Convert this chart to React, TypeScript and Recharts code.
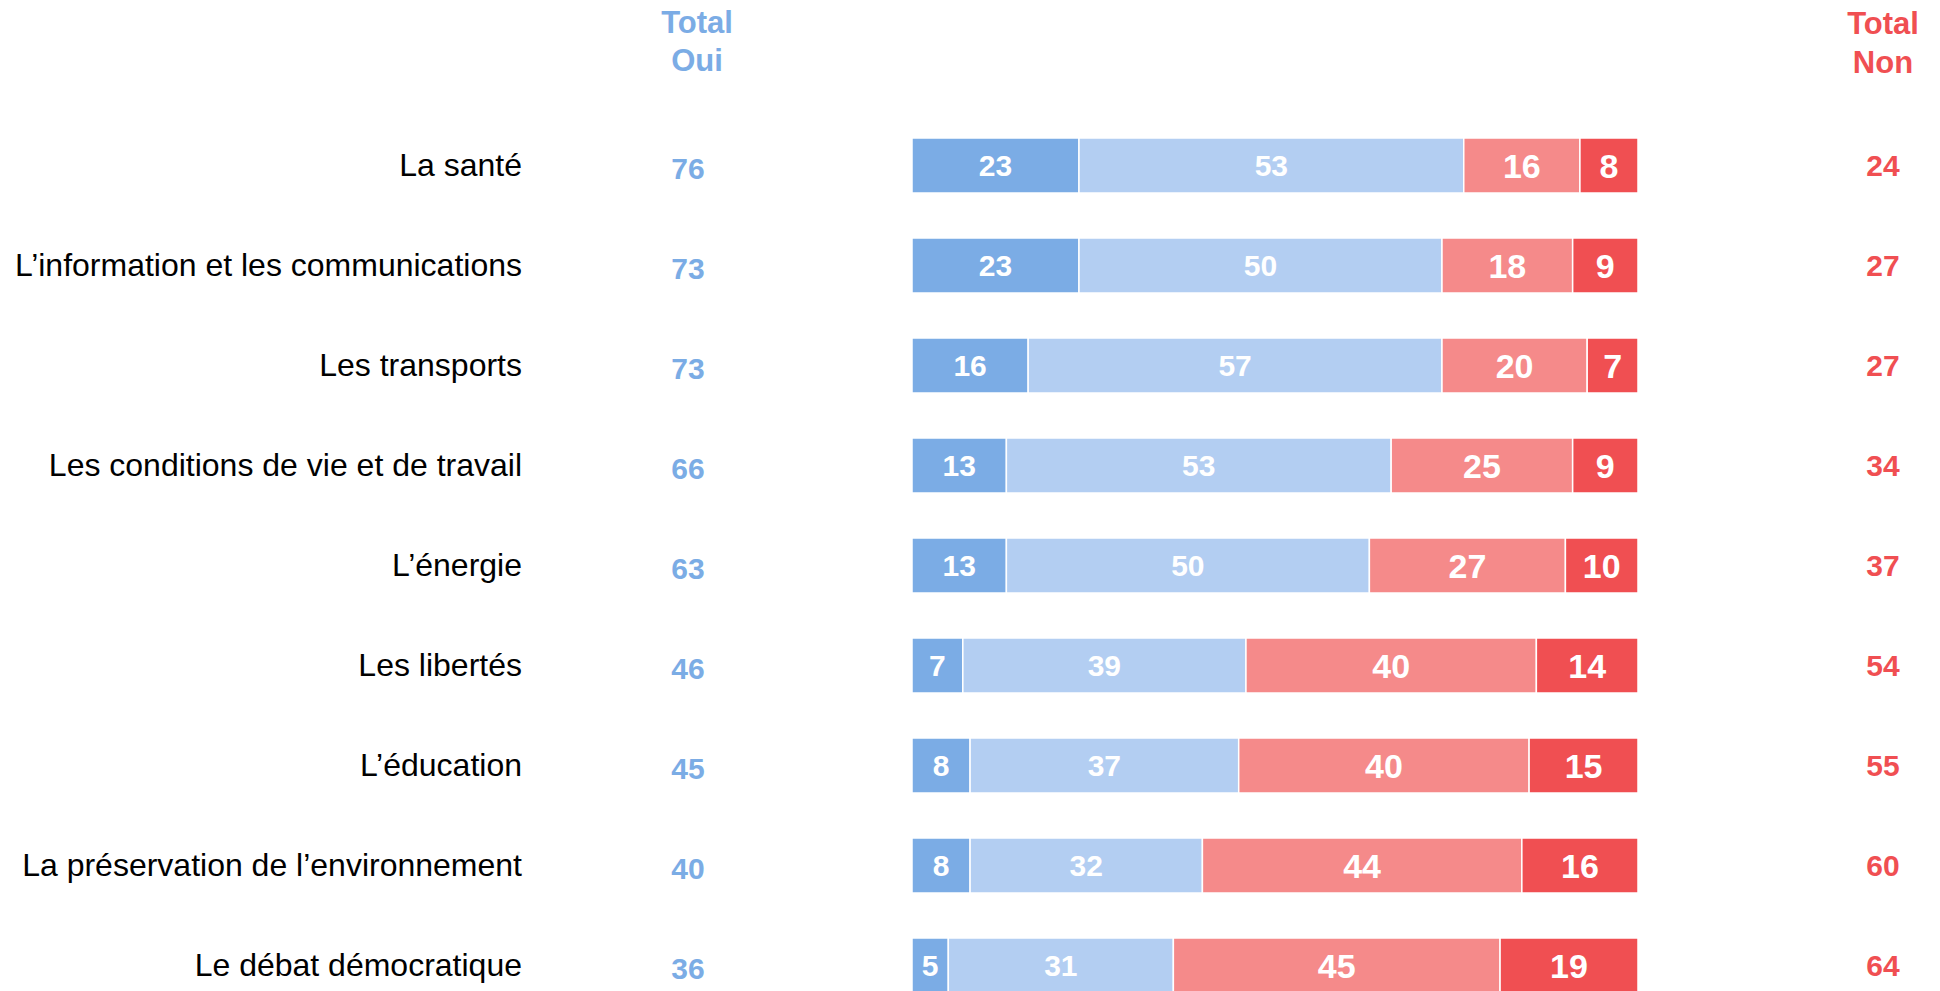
import React from "react";
import { BarChart, Bar, XAxis, YAxis, LabelList } from "recharts";

const categories = [
  "La santé",
  "L’information et les communications",
  "Les transports",
  "Les conditions de vie et de travail",
  "L’énergie",
  "Les libertés",
  "L’éducation",
  "La préservation de l’environnement",
  "Le débat démocratique",
];
const ouiTout = [23, 23, 16, 13, 13, 7, 8, 8, 5];
const ouiPlutot = [53, 50, 57, 53, 50, 39, 37, 32, 31];
const nonPlutot = [16, 18, 20, 25, 27, 40, 40, 44, 45];
const nonTout = [8, 9, 7, 9, 10, 14, 15, 16, 19];
const totalOui = [76, 73, 73, 66, 63, 46, 45, 40, 36];
const totalNon = [24, 27, 27, 34, 37, 54, 55, 60, 64];

const data = categories.map((name, i) => ({
  name,
  ouiTout: ouiTout[i],
  ouiPlutot: ouiPlutot[i],
  nonPlutot: nonPlutot[i],
  nonTout: nonTout[i],
  totalOui: totalOui[i],
  totalNon: totalNon[i],
}));

const FONT = "'Liberation Sans', Arial, sans-serif";
const BLUE = "#7BACE5";
const BLUE_LIGHT = "#B3CEF2";
const RED_LIGHT = "#F58A8A";
const RED = "#F04F52";

// tick showing the label plus both totals on the same row
const RowTick = (props: any) => {
  const { y, payload } = props;
  const i = payload.index;
  return (
    <g>
      <text x={522} y={y} dy={11} textAnchor="end" fontSize={32} fill="#000" fontFamily={FONT}>
        {payload.value}
      </text>
      <text x={688} y={y} dy={14} textAnchor="middle" fontSize={30} fontWeight="bold" fill={BLUE} fontFamily={FONT}>
        {totalOui[i]}
      </text>
      <text x={1883} y={y} dy={11} textAnchor="middle" fontSize={30} fontWeight="bold" fill={RED} fontFamily={FONT}>
        {totalNon[i]}
      </text>
    </g>
  );
};

export default function App() {
  return (
    <div style={{ position: "absolute", left: 0, top: 0, width: 1940, height: 991, overflow: "hidden", background: "#fff" }}>
      <BarChart
        width={1940}
        height={1030}
        data={data}
        layout="vertical"
        margin={{ top: 115, right: 302, bottom: 15, left: 0 }}
        barSize={55}
      >
        <XAxis type="number" domain={[0, 100]} hide />
        <YAxis
          type="category"
          dataKey="name"
          width={912}
          axisLine={false}
          tickLine={false}
          tick={<RowTick />}
          interval={0}
        />
        <Bar dataKey="ouiTout" stackId="a" fill={BLUE} stroke="#fff" strokeWidth={1.5} isAnimationActive={false}>
          <LabelList dataKey="ouiTout" position="center" fill="#fff" fontSize={30} fontWeight="bold" fontFamily={FONT} />
        </Bar>
        <Bar dataKey="ouiPlutot" stackId="a" fill={BLUE_LIGHT} stroke="#fff" strokeWidth={1.5} isAnimationActive={false}>
          <LabelList dataKey="ouiPlutot" position="center" fill="#fff" fontSize={30} fontWeight="bold" fontFamily={FONT} />
        </Bar>
        <Bar dataKey="nonPlutot" stackId="a" fill={RED_LIGHT} stroke="#fff" strokeWidth={1.5} isAnimationActive={false}>
          <LabelList dataKey="nonPlutot" position="center" fill="#fff" fontSize={34} fontWeight="bold" fontFamily={FONT} />
        </Bar>
        <Bar dataKey="nonTout" stackId="a" fill={RED} stroke="#fff" strokeWidth={1.5} isAnimationActive={false}>
          <LabelList dataKey="nonTout" position="center" fill="#fff" fontSize={34} fontWeight="bold" fontFamily={FONT} />
        </Bar>
        <text x={697} y={33} textAnchor="middle" fontSize={31} fontWeight="bold" fill={BLUE} fontFamily={FONT}>Total</text>
        <text x={697} y={71} textAnchor="middle" fontSize={31} fontWeight="bold" fill={BLUE} fontFamily={FONT}>Oui</text>
        <text x={1883} y={34} textAnchor="middle" fontSize={31} fontWeight="bold" fill={RED} fontFamily={FONT}>Total</text>
        <text x={1883} y={73} textAnchor="middle" fontSize={31} fontWeight="bold" fill={RED} fontFamily={FONT}>Non</text>
      </BarChart>
    </div>
  );
}
